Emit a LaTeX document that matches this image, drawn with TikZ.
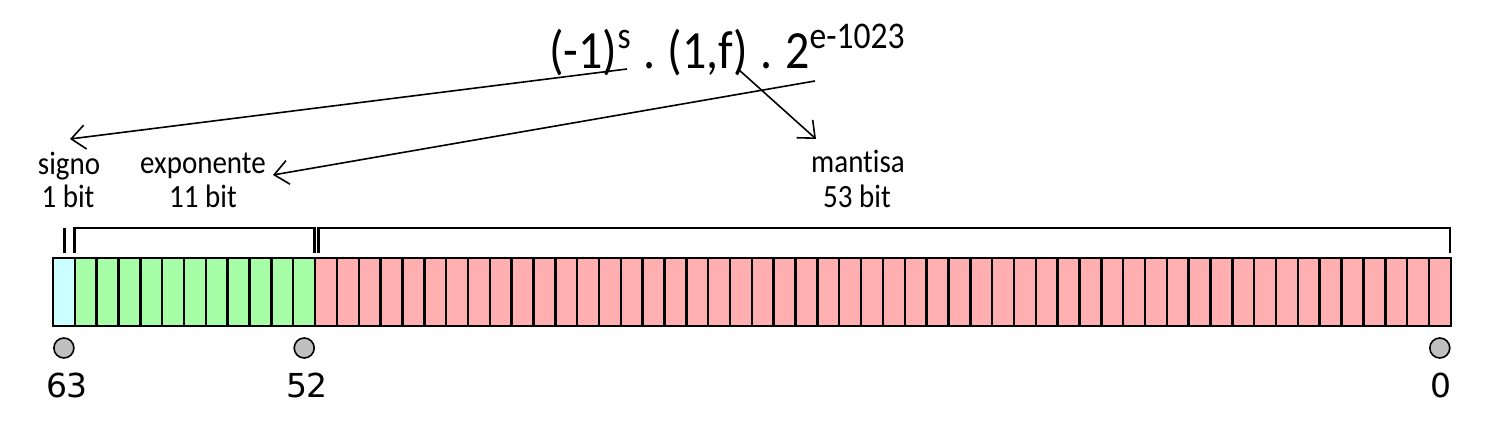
\documentclass[tikz,border=0pt]{standalone}
\usepackage{fontspec}
\setmainfont{Carlito}[Ligatures=NoCommon]
\newfontfamily\numfont{DejaVu Sans}
\usetikzlibrary{arrows.meta}
\definecolor{signc}{RGB}{204,255,255}
\definecolor{expc}{RGB}{166,255,166}
\definecolor{mantc}{RGB}{255,175,175}
\definecolor{dotc}{RGB}{192,192,192}
\newcommand{\vstr}[1]{\scalebox{1}[1.12]{#1}}
\newcommand{\fsup}[1]{\raisebox{9.3pt}{\fontsize{16.8}{17}\selectfont #1}}
\newcommand{\fdot}{\hspace{6.2pt}.\hspace{6.2pt}}
\begin{document}
\begin{tikzpicture}[x=0.5pt,y=-0.5pt,
  cell/.style={draw, line width=1.25pt, inner sep=0, outer sep=0, minimum width=10.92pt, minimum height=34pt},
  lbl/.style={font=\fontsize{14.5}{17.5}\selectfont, inner sep=0, anchor=base},
  num/.style={font=\numfont\fontsize{16.5}{18}\selectfont, inner sep=0, anchor=base},
  dotn/.style={circle, draw, fill=dotc, line width=0.8pt, minimum size=10pt, inner sep=0},
  brk/.style={line width=1.25pt},
  arr/.style={line width=0.8pt, -{Straight Barb[length=7pt,width=12pt]}}
]
\useasboundingbox (0,0) rectangle (1500,432);
\foreach \k in {0,...,63}{
  \pgfmathsetmacro\cx{53+21.84*(\k+0.5)}
  \ifnum\k=0 \def\cc{signc}\else\ifnum\k<12 \def\cc{expc}\else\def\cc{mantc}\fi\fi
  \node[cell, fill=\cc] (b\k) at (\cx,292) {};
}
% brackets
\draw[brk] (64.3,228) -- (64.3,253);
\draw[brk] (74.3,253) -- (74.3,228) -- (314.3,228) -- (314.3,253);
\draw[brk] (318.7,253) -- (318.7,228) -- (1450,228) -- (1450,253);
% labels
\node[lbl] (signo) at (69,175) {\vstr{signo}};
\node[lbl] (signob) at (68,208) {\vstr{1 bit}};
\node[lbl] (expo) at (203,174) {\vstr{exponente}};
\node[lbl] (expob) at (203,208) {\vstr{11 bit}};
\node[lbl] (mant) at (858,173) {\vstr{mantisa}};
\node[lbl] (mantb) at (857,208) {\vstr{53 bit}};
% dots and numbers
\node[dotn] (d63) at (63.9,348) {};
\node[dotn] (d52) at (304.2,348) {};
\node[dotn] (d0) at (1439.8,348) {};
\node[num] (n63) at (67,398) {63};
\node[num] (n52) at (307,398) {52};
\node[num] (n0) at (1441,398) {0};
% formula
\node[font=\fontsize{24}{28}\selectfont, anchor=base west, inner sep=0] (f) at (549,69) {\vstr{(-1)\fsup{s}\fdot(1,f)\fdot2\fsup{e-1023}}};
% arrows
\coordinate (a1s) at (627,69);
\coordinate (a1e) at (70,139);
\coordinate (a2s) at (815,81);
\coordinate (a2e) at (273,175);
\coordinate (a3s) at (738,69);
\coordinate (a3e) at (816,139);
\draw[arr] (a1s) -- (a1e);
\draw[arr] (a2s) -- (a2e);
\draw[arr] (a3s) -- (a3e);
\end{tikzpicture}
\end{document}
